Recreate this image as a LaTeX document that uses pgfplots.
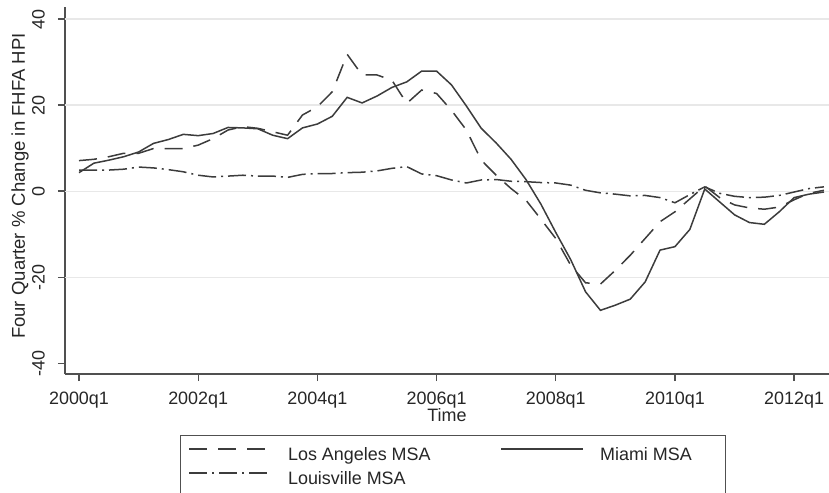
\documentclass[border=0pt]{standalone}
\usepackage{graphicx}
\usepackage{pgfplots}
\pgfplotsset{compat=1.18}
\usepackage{pgfplotstable}
\usepackage{fontspec}
\setmainfont{Liberation Sans}
\definecolor{linec}{HTML}{3C3C3C}
\definecolor{axisc}{HTML}{505050}
\definecolor{gridc}{HTML}{E8E8E8}

\pgfplotstableread{
i la mia lou
0 7.1 4.3 4.9
1 7.4 6.5 4.9
2 8.0 7.2 4.9
3 8.8 8.0 5.1
4 8.8 9.1 5.6
5 9.9 11.1 5.4
6 9.9 12.0 5.0
7 9.9 13.2 4.5
8 10.7 12.9 3.7
9 12.2 13.4 3.3
10 14.2 14.8 3.5
11 15.0 14.7 3.7
12 14.6 14.5 3.5
13 13.8 13.0 3.5
14 13.0 12.2 3.2
15 17.7 14.7 3.9
16 19.6 15.6 4.1
17 23.1 17.4 4.1
18 31.8 21.8 4.3
19 27.0 20.5 4.4
20 27.0 22.1 4.7
21 25.8 24.1 5.3
22 20.4 25.4 5.7
23 23.5 27.9 4.0
24 22.7 27.9 3.6
25 18.8 24.7 2.6
26 14.2 19.8 1.9
27 7.2 14.6 2.6
28 3.7 11.2 2.7
29 0.6 7.4 2.3
30 -2.1 2.7 2.2
31 -6.5 -3.0 2.0
32 -11.0 -9.6 1.9
33 -17.2 -15.9 1.4
34 -21.3 -23.4 0.2
35 -21.6 -27.7 -0.4
36 -18.4 -26.5 -0.7
37 -14.9 -25.1 -1.1
38 -11.0 -21.1 -1.0
39 -7.1 -13.7 -1.5
40 -4.8 -12.9 -2.7
41 -1.8 -8.9 -0.8
42 1.2 0.5 1.0
43 -1.5 -2.5 -0.5
44 -3.2 -5.5 -1.2
45 -3.9 -7.3 -1.5
46 -4.2 -7.7 -1.4
47 -3.7 -4.8 -1.0
48 -2.0 -1.5 -0.2
49 -0.5 -0.7 0.6
50 0.2 -0.2 1.0
}\data

\begin{document}
\begin{tikzpicture}
\begin{axis}[
  name=ax,
  scale only axis, width=764bp, height=367bp,
  xmin=-0.94, xmax=50.34, ymin=-42.5, ymax=42.8,
  axis x line*=bottom, axis y line*=left,
  axis line style={-, draw=axisc, line width=1.3bp},
  xtick={0,8,16,24,32,40,48},
  xticklabels={2000q1,2002q1,2004q1,2006q1,2008q1,2010q1,2012q1},
  ytick={-40,-20,0,20,40},
  yticklabels={\rotatebox{90}{-40},\rotatebox{90}{-20},\rotatebox{90}{0},\rotatebox{90}{20},\rotatebox{90}{40}},
  tick align=outside, major tick length=7bp,
  tick style={draw=axisc, line width=1.3bp},
  minor tick num=0,
  extra y ticks={-20,0,20,40},
  extra y tick labels={},
  extra y tick style={grid=major, major tick length=0pt},
  grid style={draw=gridc, line width=1.2bp},
  ticklabel style={font=\fontsize{18}{21}\selectfont, text=black!85},
  xticklabel style={inner sep=0pt, anchor=north, yshift=-11bp},
  yticklabel style={anchor=east, inner sep=0pt, xshift=-13bp},
  xlabel={Time},
  ylabel={Four Quarter \% Change in FHFA HPI},
  label style={text=black!85},
  xlabel style={font=\fontsize{18}{21}\selectfont, at={(axis description cs:0.5,0)}, anchor=north, inner sep=0pt, yshift=-34bp},
  ylabel style={font=\fontsize{18.6}{21}\selectfont, at={(axis description cs:0,0.5)}, anchor=center, inner sep=0pt, yshift=45bp, xshift=4.5bp},
  legend columns=2,
  legend cell align=left,
  legend image code/.code={\draw[#1] (0bp,7bp) -- (82bp,7bp);},
  legend style={at={(0.1505,-0.1662)}, anchor=north west, draw=axisc, line width=1.2bp,
    inner xsep=8bp, inner ysep=11.5bp, font=\fontsize{18}{21}\selectfont, text=black!85,
    nodes={inner sep=0pt, text height=13.5bp, text depth=4bp},
    row sep=6.5bp,
    /tikz/every odd column/.style={column sep=16bp},
    /tikz/every even column/.style={column sep=70bp}},
]
\addplot[linec, line width=1.5bp, dash pattern=on 18bp off 11bp] table[x=i, y=la] {\data};
\addlegendentry{Los Angeles MSA}
\addplot[linec, line width=1.5bp] table[x=i, y=mia] {\data};
\addlegendentry{\makebox[117bp][l]{Miami MSA}}
\addplot[linec, line width=1.5bp, dash pattern=on 18bp off 5bp on 2bp off 5bp] table[x=i, y=lou] {\data};
\addlegendentry{Louisville MSA}
\end{axis}
\pgfresetboundingbox
\useasboundingbox ([shift={(-65bp,-119bp)}]ax.south west) rectangle ([shift={(0bp,7bp)}]ax.north east);
\end{tikzpicture}
\end{document}
